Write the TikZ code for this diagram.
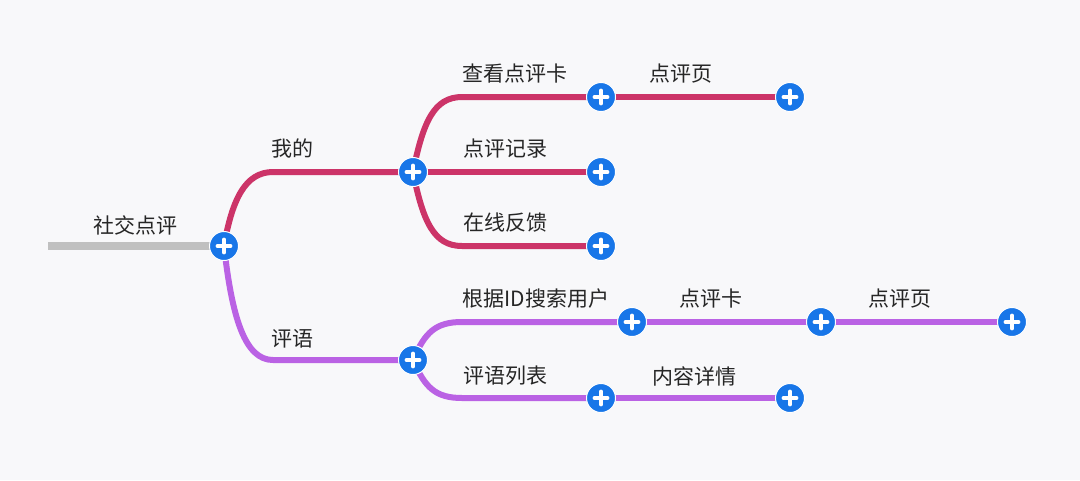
\documentclass[tikz,border=0pt]{standalone}
\usepackage{fontspec}
\newfontfamily\cjk{Noto Sans CJK SC}
\usetikzlibrary{backgrounds}
\definecolor{paper}{RGB}{248,248,250}
\definecolor{stem}{RGB}{192,192,192}
\definecolor{mine}{RGB}{204,52,104}
\definecolor{remark}{RGB}{186,98,228}
\definecolor{knob}{RGB}{24,118,232}

\begin{document}
\begin{tikzpicture}[x=1pt,y=-1pt,line cap=round,
  plus/.style={circle,fill=knob,draw=white,line width=1pt,minimum size=29pt,inner sep=0pt,
    path picture={\draw[white,line width=3.8pt,line cap=round]
      ([xshift=-6.5pt]path picture bounding box.center) -- ([xshift=6.5pt]path picture bounding box.center)
      ([yshift=-6.5pt]path picture bounding box.center) -- ([yshift=6.5pt]path picture bounding box.center);}},
  lbl/.style={font=\cjk\fontsize{21}{24}\selectfont,text=black!85},
  twig/.style={line width=6pt}]

\useasboundingbox (0,0) rectangle (1080,480);

% --- knobs ---
\node[plus] (root)   at (224,246) {};
\node[plus] (mine)   at (413,172) {};
\node[plus] (card)   at (601,97)  {};
\node[plus] (page)   at (790,97)  {};
\node[plus] (rec)    at (601,172) {};
\node[plus] (fb)     at (601,246) {};
\node[plus] (rem)    at (413,360) {};
\node[plus] (search) at (632,322) {};
\node[plus] (card2)  at (821,322) {};
\node[plus] (page2)  at (1012,322) {};
\node[plus] (list)   at (601,398) {};
\node[plus] (detail) at (790,398) {};
\coordinate (start) at (48,246);

% --- labels ---
\node[lbl] (troot)   at (135,225) {社交点评};
\node[lbl] (tmine)   at (292,149) {我的};
\node[lbl] (tcard)   at (515,74)  {查看点评卡};
\node[lbl] (tpage)   at (681,74)  {点评页};
\node[lbl] (trec)    at (505,149) {点评记录};
\node[lbl] (tfb)     at (505,223) {在线反馈};
\node[lbl] (trem)    at (292,339) {评语};
\node[lbl] (tsearch) at (536,299) {根据ID搜索用户};
\node[lbl] (tcard2)  at (711,299) {点评卡};
\node[lbl] (tpage2)  at (900,299) {点评页};
\node[lbl] (tlist)   at (505,376) {评语列表};
\node[lbl] (tdetail) at (694,376) {内容详情};

\begin{pgfonlayer}{background}
  \fill[paper] (0,0) rectangle (1080,480);
  \draw[stem,line width=8pt] (start) -- (root.center);

  % --- 我的 ---
  \draw[twig,mine] (root.center) .. controls +(8,-46) and +(-28,0) .. +(49,-74) -- (mine.center);
  \draw[twig,mine] (mine.center) .. controls +(10,-50) and +(-28,0) .. +(49,-75) -- (card.center);
  \draw[twig,mine] (card.center) -- (page.center);
  \draw[twig,mine] (mine.center) -- (rec.center);
  \draw[twig,mine] (mine.center) .. controls +(10,50) and +(-28,0) .. +(49,74) -- (fb.center);

  % --- 评语 ---
  \draw[twig,remark] (root.center) .. controls +(8,72) and +(-28,0) .. +(49,114) -- (rem.center);
  \draw[twig,remark] (rem.center) .. controls +(12,-28) and +(-26,0) .. +(49,-38) -- (search.center);
  \draw[twig,remark] (search.center) -- (card2.center) -- (page2.center);
  \draw[twig,remark] (rem.center) .. controls +(12,28) and +(-26,0) .. +(49,38) -- (list.center);
  \draw[twig,remark] (list.center) -- (detail.center);
\end{pgfonlayer}

\end{tikzpicture}
\end{document}
